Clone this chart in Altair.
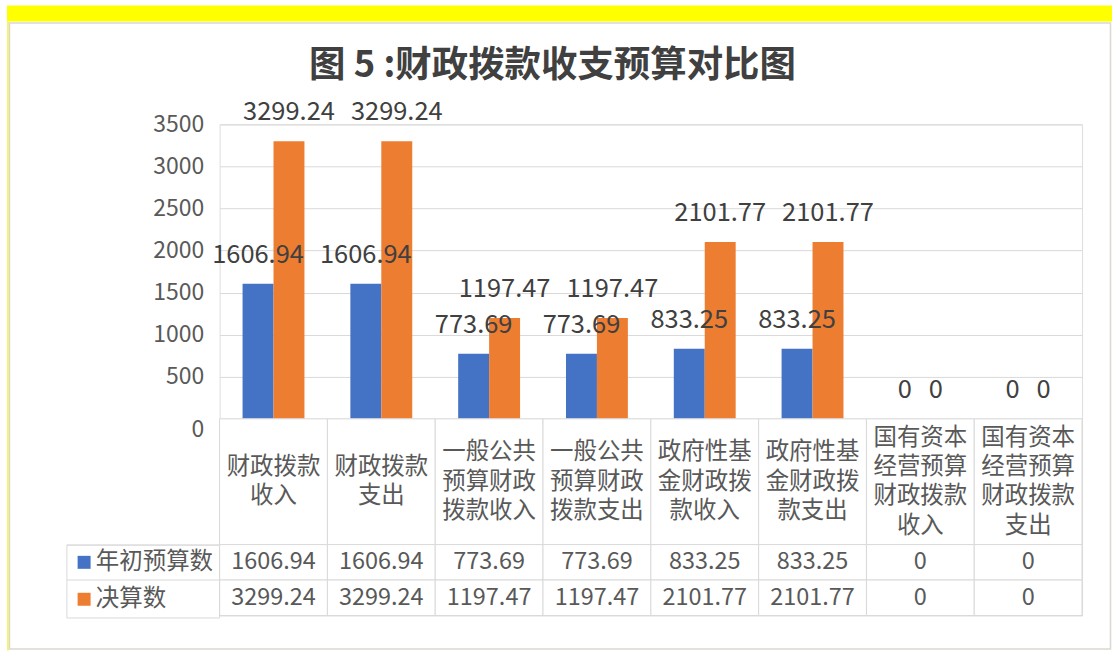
import altair as alt
import pandas as pd

# ---------------- data ----------------
categories = [
    "财政拨款收入",
    "财政拨款支出",
    "一般公共预算财政拨款收入",
    "一般公共预算财政拨款支出",
    "政府性基金财政拨款收入",
    "政府性基金财政拨款支出",
    "国有资本经营预算财政拨款收入",
    "国有资本经营预算财政拨款支出",
]
series_names = ["年初预算数", "决算数"]
initial_budget = [1606.94, 1606.94, 773.69, 773.69, 833.25, 833.25, 0, 0]
final_accounts = [3299.24, 3299.24, 1197.47, 1197.47, 2101.77, 2101.77, 0, 0]
y_tick_values = [0, 500, 1000, 1500, 2000, 2500, 3000, 3500]
title_text = "图 5 :财政拨款收支预算对比图"

# ---------------- styles ----------------
FONT = "Noto Sans CJK SC"
COLORS = ["#4472C4", "#ED7D31"]
GRID = "#d9d9d9"
TXT = "#595959"
W = 864
LINE_H = 29.5

rows = []
for s, vals in zip(series_names, [initial_budget, final_accounts]):
    for c, v in zip(categories, vals):
        rows.append({"category": c, "series": s, "value": v})
df = pd.DataFrame(rows)

wrapped = ["\n".join(c[i:i + 4] for i in range(0, len(c), 4)) for c in categories]
cat_df = pd.DataFrame({
    "category": categories,
    "wrapped": wrapped,
    "nlines": [w.count("\n") + 1 for w in wrapped],
})

color_scale = alt.Scale(domain=series_names, range=COLORS)

# ---------------- top: bars ----------------
bar_base = alt.Chart(df).encode(
    x=alt.X("category:N", sort=categories, axis=None,
            scale=alt.Scale(paddingInner=0.426, paddingOuter=0.213)),
    xOffset=alt.XOffset("series:N", sort=series_names, scale=alt.Scale(paddingInner=0)),
    y=alt.Y("value:Q", scale=alt.Scale(domain=[0, 3500], nice=False),
            axis=alt.Axis(values=y_tick_values, format="d", title=None, grid=True,
                          gridColor=GRID, domain=False, ticks=False, labelFontSize=23,
                          labelColor=TXT, labelFont=FONT, labelPadding=16,
                          labelBaseline={"condition": {"test": "datum.value === 0", "value": "top"},
                                         "value": "middle"})),
)
bars = bar_base.mark_bar().encode(
    color=alt.Color("series:N", sort=series_names, scale=color_scale, legend=None)
)
bar_labels = bar_base.mark_text(dy=-21, baseline="alphabetic", fontSize=25.5,
                                color="#404040", font=FONT).encode(
    text=alt.Text("value:Q", format=".2~f")
)

deco = alt.Chart(pd.DataFrame({"k": [0]}))
yellow_band = deco.mark_rect(color="#ffff00").encode(
    x=alt.value(-213), x2=alt.value(894), y=alt.value(-119), y2=alt.value(-103))
yellow_left = deco.mark_rect(color="#f3f37a").encode(
    x=alt.value(-213), x2=alt.value(-211), y=alt.value(-103), y2=alt.value(527))
frame = deco.mark_rect(fillOpacity=0, stroke="#dcd8d0", strokeWidth=1.5).encode(
    x=alt.value(-210.5), x2=alt.value(892.5), y=alt.value(-101.5), y2=alt.value(525.5))

top = alt.layer(frame, yellow_band, yellow_left, bars, bar_labels).properties(width=W, height=295)

# ---------------- middle: category label row ----------------
mid_base = alt.Chart(cat_df).encode(
    x=alt.X("category:N", sort=categories, axis=None, scale=alt.Scale(padding=0))
)
mid_layers = [mid_base.mark_rect(fill="white", stroke=GRID, strokeWidth=1)]
for n in sorted(set(cat_df["nlines"])):
    mid_layers.append(
        mid_base.transform_filter(alt.datum.nlines == int(n)).mark_text(
            lineBreak="\n", fontSize=23.5, lineHeight=LINE_H, color=TXT, font=FONT,
            baseline="middle", dy=-(int(n) - 1) * LINE_H / 2,
        ).encode(text="wrapped:N")
    )
mid = alt.layer(*mid_layers).properties(width=W, height=126)

# ---------------- bottom: data table ----------------
bot_base = alt.Chart(df).encode(
    x=alt.X("category:N", sort=categories, axis=None, scale=alt.Scale(padding=0)),
    y=alt.Y("series:N", sort=series_names, scale=alt.Scale(padding=0),
            axis=alt.Axis(title=None, labels=False, domain=False, ticks=True, tickSize=153.5,
                          tickColor=GRID, bandPosition=0)),
)
legend_marks = bot_base.mark_square(size=10, opacity=1).encode(
    color=alt.Color("series:N", sort=series_names, scale=color_scale,
                    legend=alt.Legend(title=None, orient="none", legendX=-153.5, legendY=0,
                                      direction="vertical", symbolType="square", symbolSize=169,
                                      symbolStrokeWidth=0, symbolOffset=0, labelOffset=0,
                                      labelFontSize=23.5, labelColor=TXT, labelFont=FONT,
                                      padding=6, rowPadding=12, strokeColor=GRID))
)
cells = bot_base.mark_rect(fill="white", stroke=GRID, strokeWidth=1)
values = bot_base.mark_text(fontSize=23.5, color=TXT, font=FONT).encode(
    text=alt.Text("value:Q", format=".2~f")
)
bot = alt.layer(legend_marks, cells, values).properties(width=W, height=71)

chart = alt.vconcat(top, mid, bot, spacing=0, bounds="flush").resolve_scale(
    x="independent", color="independent"
).resolve_legend(color="independent").properties(
    title=alt.TitleParams(text=title_text, fontSize=36.5, fontWeight="bold", font=FONT,
                          color="#404040", anchor="middle", baseline="middle",
                          offset=-98, dx=-7),
    padding={"left": 6, "top": 4, "right": 0, "bottom": 0},
    background="white",
).configure_view(stroke=None).configure(font=FONT)

chart.save("out.html", embed_options={"renderer": "svg", "actions": False})
